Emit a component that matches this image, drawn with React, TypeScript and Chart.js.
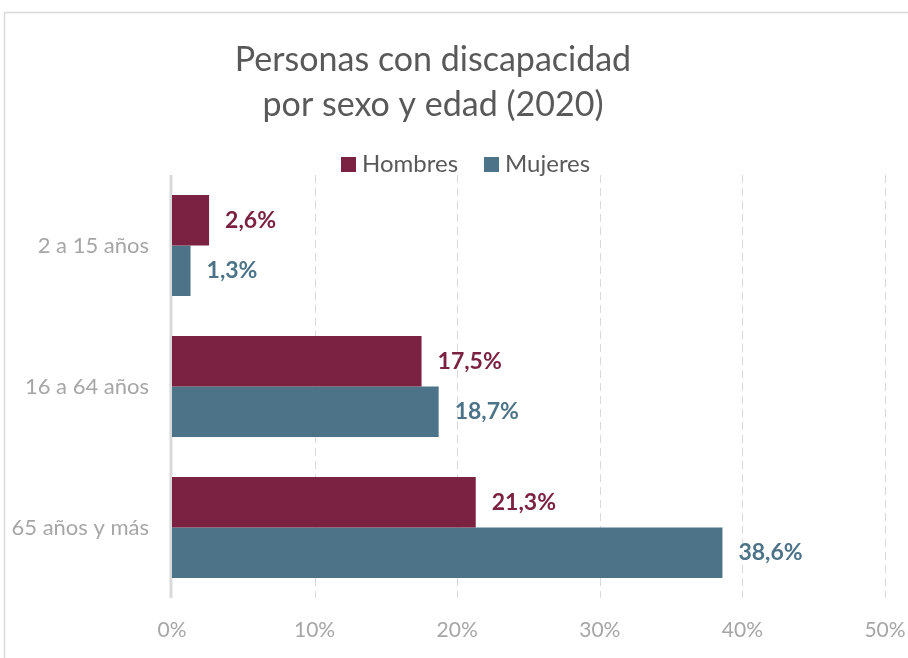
import React, { useEffect, useRef } from "react";
import { Chart, registerables } from "chart.js";

Chart.register(...registerables);

const categories = ["2 a 15 años", "16 a 64 años", "65 años y más"];
const hombres = [2.6, 17.5, 21.3];
const mujeres = [1.3, 18.7, 38.6];
const seriesNames = ["Hombres", "Mujeres"];
const titleLines = ["Personas con discapacidad", "por sexo y edad (2020)"];
const xTicks = [0, 10, 20, 30, 40, 50];

const COL_H = "#7B2242";
const COL_M = "#4D7389";
const GRID = "#d9d9d9";
const FONT = "Lato, 'Open Sans', sans-serif";

const fmt = (v: number) => v.toFixed(1).replace(".", ",") + "%";

const decorPlugin = {
  id: "decor",
  beforeDraw(chart: any) {
    const { ctx, width, height } = chart;
    ctx.save();
    ctx.fillStyle = "#ffffff";
    ctx.fillRect(0, 0, width, height);
    ctx.strokeStyle = GRID;
    ctx.lineWidth = 1.5;
    ctx.strokeRect(4.5, 12.5, width + 20, height + 20);
    // title
    ctx.fillStyle = "#595959";
    ctx.font = `34px ${FONT}`;
    ctx.textAlign = "center";
    ctx.textBaseline = "middle";
    ctx.fillText(titleLines[0], 433, 60);
    ctx.fillText(titleLines[1], 433, 105);
    // legend
    ctx.font = `24px ${FONT}`;
    ctx.textAlign = "left";
    const items = [
      { name: seriesNames[0], color: COL_H, x: 341 },
      { name: seriesNames[1], color: COL_M, x: 484 },
    ];
    items.forEach((it) => {
      ctx.fillStyle = it.color;
      ctx.fillRect(it.x, 157, 15, 15);
      ctx.fillStyle = "#595959";
      ctx.fillText(it.name, it.x + 21, 164);
    });
    ctx.restore();
  },
  beforeDatasetsDraw(chart: any) {
    const { ctx, chartArea } = chart;
    const xs = chart.scales.x;
    ctx.save();
    ctx.strokeStyle = GRID;
    ctx.lineWidth = 1;
    ctx.setLineDash([8, 5]);
    xTicks.forEach((t) => {
      if (t === 0) return;
      const px = Math.round(xs.getPixelForValue(t)) + 0.5;
      ctx.beginPath();
      ctx.moveTo(px, chartArea.top);
      ctx.lineTo(px, chartArea.bottom);
      ctx.stroke();
    });
    ctx.setLineDash([]);
    ctx.lineWidth = 3;
    const z = xs.getPixelForValue(0) - 1;
    ctx.beginPath();
    ctx.moveTo(z, chartArea.top);
    ctx.lineTo(z, chartArea.bottom);
    ctx.stroke();
    ctx.restore();
  },
  afterDatasetsDraw(chart: any) {
    const { ctx } = chart;
    ctx.save();
    ctx.font = `bold 23px ${FONT}`;
    ctx.textAlign = "left";
    ctx.textBaseline = "middle";
    chart.data.datasets.forEach((ds: any, di: number) => {
      const meta = chart.getDatasetMeta(di);
      meta.data.forEach((el: any, i: number) => {
        ctx.fillStyle = ds.backgroundColor;
        ctx.fillText(fmt(ds.data[i]), el.x + 16, el.y);
      });
    });
    ctx.restore();
  },
};

export default function App() {
  const ref = useRef<HTMLCanvasElement>(null);
  useEffect(() => {
    if (!ref.current) return;
    const chart = new Chart(ref.current, {
      type: "bar",
      data: {
        labels: categories,
        datasets: [
          { label: seriesNames[0], data: hombres, backgroundColor: COL_H },
          { label: seriesNames[1], data: mujeres, backgroundColor: COL_M },
        ],
      },
      options: {
        indexAxis: "y",
        animation: false,
        responsive: false,
        maintainAspectRatio: false,
        layout: { padding: { left: 0, right: 0, top: 175, bottom: 0 } },
        datasets: { bar: { categoryPercentage: 0.716, barPercentage: 1 } },
        plugins: {
          legend: { display: false },
          title: { display: false },
          tooltip: { enabled: false },
        },
        scales: {
          x: {
            min: 0,
            max: 50,
            grid: { display: false, drawTicks: false },
            border: { display: false },
            ticks: {
              stepSize: 10,
              padding: 20,
              color: "#a6a6a6",
              font: { family: FONT, size: 21 },
              callback: (v: any) => v + "%",
            },
            afterFit: (s: any) => {
              s.height = 60;
              s.paddingRight = 23;
              s.paddingLeft = 0;
            },
          },
          y: {
            grid: { display: false, drawTicks: false },
            border: { display: false },
            ticks: {
              padding: 23,
              color: "#a6a6a6",
              font: { family: FONT, size: 22 },
            },
            afterFit: (s: any) => {
              s.width = 172;
            },
          },
        },
      },
      plugins: [decorPlugin],
    });
    return () => chart.destroy();
  }, []);
  return (
    <div style={{ position: "fixed", left: 0, top: 0, width: 908, height: 658 }}>
      <canvas ref={ref} width={908} height={658} style={{ display: "block" }} />
    </div>
  );
}
